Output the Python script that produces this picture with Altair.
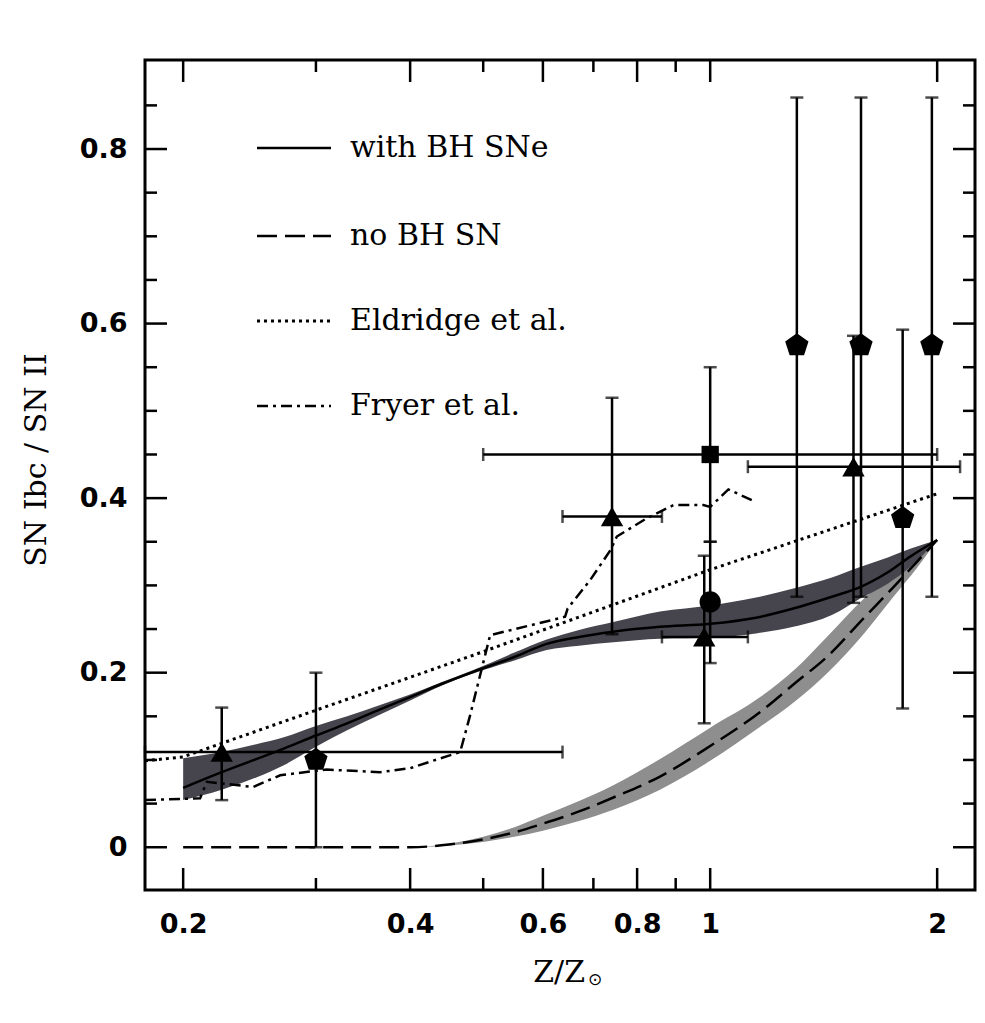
import altair as alt
import pandas as pd

# ---------------- values ----------------
# model "with BH SNe": metallicity grid, central curve, shaded range
bh_z   = [0.2, 0.225, 0.25, 0.272, 0.30, 0.33, 0.365, 0.40, 0.44, 0.485, 0.55, 0.607,
          0.67, 0.744, 0.858, 1.0, 1.15, 1.289, 1.45, 1.581, 1.72, 1.842, 2.0]
bh_mid = [0.068, 0.086, 0.101, 0.113, 0.128, 0.142, 0.158, 0.172, 0.187, 0.201, 0.218, 0.233,
          0.241, 0.247, 0.2525, 0.256, 0.263, 0.2735, 0.287, 0.298, 0.315, 0.333, 0.352]
bh_lo  = [0.054, 0.066, 0.080, 0.094, 0.115, 0.134, 0.152, 0.168, 0.185, 0.199, 0.214, 0.226,
          0.231, 0.235, 0.239, 0.240, 0.245, 0.2525, 0.266, 0.285, 0.302, 0.321, 0.352]
bh_hi  = [0.102, 0.109, 0.118, 0.126, 0.139, 0.150, 0.163, 0.175, 0.189, 0.203, 0.223, 0.238,
          0.249, 0.258, 0.270, 0.277, 0.286, 0.2965, 0.309, 0.321, 0.332, 0.342, 0.352]

# model "no BH SN"
nb_z   = [0.2, 0.3, 0.4, 0.45, 0.5, 0.55, 0.6, 0.67, 0.744, 0.858, 1.0, 1.165, 1.3,
          1.428, 1.6, 1.75, 1.88, 2.0]
nb_mid = [0.0, 0.0, 0.0, 0.003, 0.009, 0.017, 0.027, 0.041, 0.057, 0.081, 0.116, 0.155,
          0.189, 0.218, 0.263, 0.298, 0.327, 0.352]
nb_lo  = [0.0, 0.0, 0.0, 0.002, 0.006, 0.012, 0.019, 0.030, 0.043, 0.066, 0.099, 0.138,
          0.168, 0.199, 0.245, 0.287, 0.320, 0.352]
nb_hi  = [0.0, 0.0, 0.0, 0.004, 0.012, 0.023, 0.036, 0.053, 0.071, 0.101, 0.137, 0.172,
          0.205, 0.241, 0.285, 0.314, 0.335, 0.352]

# Eldridge et al.
eld_z = [0.178, 0.2, 0.3, 0.485, 1.0, 2.0]
eld_v = [0.099, 0.1035, 0.157, 0.220, 0.318, 0.405]

# Fryer et al.
fry_z = [0.178, 0.2106, 0.215, 0.2476, 0.269, 0.31, 0.365, 0.40, 0.425, 0.466, 0.480,
         0.5107, 0.642, 0.647, 0.693, 0.737, 0.752, 0.824, 0.894, 0.979, 1.0, 1.057, 1.147]
fry_v = [0.054, 0.056, 0.075, 0.069, 0.0825, 0.089, 0.086, 0.0905, 0.098, 0.109, 0.150,
         0.243, 0.264, 0.2735, 0.306, 0.340, 0.356, 0.377, 0.392, 0.392, 0.390, 0.410, 0.396]

# observations: triangles
tri_z   = [0.225, 0.741, 0.982, 1.549]
tri_v   = [0.109, 0.379, 0.241, 0.436]
tri_lo  = [0.054, 0.244, 0.142, 0.280]
tri_hi  = [0.160, 0.515, 0.334, 0.586]
tri_zlo = [0.178, 0.637, 0.863, 1.122]
tri_zhi = [0.637, 0.863, 1.122, 2.145]

# pentagons
pen_z  = [0.300, 1.303, 1.585, 1.968, 1.80]
pen_v  = [0.100, 0.575, 0.575, 0.575, 0.377]
pen_lo = [0.0, 0.287, 0.287, 0.287, 0.159]
pen_hi = [0.200, 0.859, 0.859, 0.859, 0.593]

# square
sq_z, sq_v, sq_lo, sq_hi, sq_zlo, sq_zhi = [1.0], [0.450], [0.350], [0.550], [0.500], [2.0]

# circle
ci_z, ci_v, ci_lo, ci_hi = [1.0], [0.281], [0.211], [0.350]

# axis ticks / labels
x_major = [0.2, 0.4, 0.6, 0.8, 1.0, 2.0]
x_minor = [0.3, 0.5, 0.7, 0.9]
y_major = [0.0, 0.2, 0.4, 0.6, 0.8]
y_minor = [0.05, 0.1, 0.15, 0.25, 0.3, 0.35, 0.45, 0.5, 0.55, 0.65, 0.7, 0.75, 0.85]

legend_labels = ["with BH SNe", "no BH SN", "Eldridge et al.", "Fryer et al."]

# ---------------- layout / style ----------------
W, H = 830, 830
LW = 2.5
xscale = alt.Scale(type="log", domain=[0.178, 2.245], nice=False)
yscale = alt.Scale(domain=[-0.049, 0.902], nice=False, zero=False)

xaxis = alt.Axis(values=x_major, format=".1~f", ticks=False, domain=False, grid=False,
                 labelFont="DejaVu Sans", labelFontWeight="bold", labelFontSize=27,
                 labelColor="black", labelPadding=21, labelFlush=False, labelOverlap=False,
                 title=None)
yaxis = alt.Axis(values=y_major, format=".1~f", ticks=False, domain=False, grid=False,
                 labelFont="DejaVu Sans", labelFontWeight="bold", labelFontSize=27,
                 labelColor="black", labelPadding=18, labelFlush=False, labelOverlap=False,
                 title=None)


def X(field="z"):
    return alt.X(f"{field}:Q", scale=xscale, axis=xaxis)


def Y(field="v"):
    return alt.Y(f"{field}:Q", scale=yscale, axis=yaxis)


bh = pd.DataFrame({"z": bh_z, "v": bh_mid, "lo": bh_lo, "hi": bh_hi})
nb = pd.DataFrame({"z": nb_z, "v": nb_mid, "lo": nb_lo, "hi": nb_hi})
eld = pd.DataFrame({"z": eld_z, "v": eld_v})
fry = pd.DataFrame({"z": fry_z, "v": fry_v})

layers = []

# bands
layers.append(alt.Chart(nb).mark_area(color="#8e8e8e", interpolate="monotone")
              .encode(x=X(), y=Y("lo"), y2="hi:Q"))
layers.append(alt.Chart(bh).mark_area(color="#46454e", interpolate="monotone")
              .encode(x=X(), y=Y("lo"), y2="hi:Q"))
# curves
layers.append(alt.Chart(nb).mark_line(color="black", strokeWidth=LW, strokeDash=[20, 8],
                                      interpolate="monotone").encode(x=X(), y=Y()))
layers.append(alt.Chart(bh).mark_line(color="black", strokeWidth=LW, interpolate="monotone")
              .encode(x=X(), y=Y()))
layers.append(alt.Chart(eld).mark_line(color="black", strokeWidth=3, strokeDash=[3, 4])
              .encode(x=X(), y=Y()))
layers.append(alt.Chart(fry).mark_line(color="black", strokeWidth=LW, strokeDash=[11, 5, 3, 5])
              .encode(x=X(), y=Y()))

# error bars
vz = tri_z + pen_z + sq_z + ci_z
vlo = tri_lo + pen_lo + sq_lo + ci_lo
vhi = tri_hi + pen_hi + sq_hi + ci_hi
vbars = pd.DataFrame({"z": vz, "lo": vlo, "hi": vhi})
vcaps = pd.DataFrame({"z": vz + vz, "v": vlo + vhi})
hv = tri_v + sq_v
hzlo = tri_zlo + sq_zlo
hzhi = tri_zhi + sq_zhi
hbars = pd.DataFrame({"v": hv, "zlo": hzlo, "zhi": hzhi})
hcaps = pd.DataFrame({"z": hzlo + hzhi, "v": hv + hv})

layers.append(alt.Chart(vbars).mark_rule(color="black", strokeWidth=LW)
              .encode(x=X(), y=Y("lo"), y2="hi:Q"))
layers.append(alt.Chart(vcaps).mark_tick(color="black", orient="horizontal", size=13,
                                          thickness=LW).encode(x=X(), y=Y()))
layers.append(alt.Chart(hbars).mark_rule(color="black", strokeWidth=LW)
              .encode(x=X("zlo"), x2="zhi:Q", y=Y()))
layers.append(alt.Chart(hcaps).mark_tick(color="black", orient="vertical", size=13,
                                          thickness=LW).encode(x=X(), y=Y()))

# markers
PENT = "M0,-1L0.951,-0.309L0.588,0.809L-0.588,0.809L-0.951,-0.309Z"
layers.append(alt.Chart(pd.DataFrame({"z": tri_z, "v": tri_v}))
              .mark_point(shape="triangle-up", filled=True, size=500, color="black", opacity=1)
              .encode(x=X(), y=Y()))
layers.append(alt.Chart(pd.DataFrame({"z": pen_z, "v": pen_v}))
              .mark_point(shape=PENT, filled=True, size=600, color="black", opacity=1)
              .encode(x=X(), y=Y()))
layers.append(alt.Chart(pd.DataFrame({"z": sq_z, "v": sq_v}))
              .mark_point(shape="square", filled=True, size=300, color="black", opacity=1)
              .encode(x=X(), y=Y()))
layers.append(alt.Chart(pd.DataFrame({"z": ci_z, "v": ci_v}))
              .mark_point(shape="circle", filled=True, size=452, color="black", opacity=1)
              .encode(x=X(), y=Y()))

# inward ticks on all four sides
MAJ, MIN = 22, 12
xmaj = pd.DataFrame({"z": x_major})
xmin = pd.DataFrame({"z": x_minor})
ymaj = pd.DataFrame({"v": y_major})
ymin = pd.DataFrame({"v": y_minor})
for df, L in ((xmaj, MAJ), (xmin, MIN)):
    layers.append(alt.Chart(df).mark_rule(color="black", strokeWidth=LW)
                  .encode(x=X(), y=alt.value(H), y2=alt.value(H - L)))
    layers.append(alt.Chart(df).mark_rule(color="black", strokeWidth=LW)
                  .encode(x=X(), y=alt.value(0), y2=alt.value(L)))
for df, L in ((ymaj, MAJ), (ymin, MIN)):
    layers.append(alt.Chart(df).mark_rule(color="black", strokeWidth=LW)
                  .encode(y=Y(), x=alt.value(0), x2=alt.value(L)))
    layers.append(alt.Chart(df).mark_rule(color="black", strokeWidth=LW)
                  .encode(y=Y(), x=alt.value(W), x2=alt.value(W - L)))

# legend (drawn inside the plot)
rows = [88, 176, 261, 346]
dashes = [None, [20, 8], [3, 4], [11, 5, 3, 5]]
widths = [LW, LW, 3, LW]
for lab, ry, dsh, sw in zip(legend_labels, rows, dashes, widths):
    kw = dict(color="black", strokeWidth=sw)
    if dsh is not None:
        kw["strokeDash"] = dsh
    layers.append(alt.Chart(pd.DataFrame({"t": [lab]})).mark_rule(**kw)
                  .encode(x=alt.value(112), x2=alt.value(186), y=alt.value(ry)))
    layers.append(alt.Chart(pd.DataFrame({"t": [lab]}))
                  .mark_text(font="DejaVu Serif", fontSize=30, align="left", baseline="middle",
                             color="black")
                  .encode(x=alt.value(205), y=alt.value(ry), text="t:N"))

# axis titles
layers.append(alt.Chart(pd.DataFrame({"t": ["SN Ibc / SN II"]}))
              .mark_text(font="DejaVu Serif", fontSize=30, angle=270, align="center",
                         baseline="middle", color="black")
              .encode(x=alt.value(-108), y=alt.value(H / 2 - 15), text="t:N"))
layers.append(alt.Chart(pd.DataFrame({"t": ["Z/Z"]}))
              .mark_text(font="DejaVu Serif", fontSize=30, align="right",
                         baseline="alphabetic", color="black")
              .encode(x=alt.value(440), y=alt.value(922), text="t:N"))
layers.append(alt.Chart(pd.DataFrame({"t": ["\u2299"]}))
              .mark_text(font="DejaVu Sans", fontSize=17, align="center",
                         baseline="middle", color="black")
              .encode(x=alt.value(450), y=alt.value(920), text="t:N"))

chart = (alt.layer(*layers)
         .properties(width=W, height=H,
                     autosize=alt.AutoSizeParams(type="none"),
                     padding={"left": 137, "top": 52, "right": 2, "bottom": 120},
                     background="white")
         .configure_view(stroke="black", strokeWidth=3))

chart.save("out.html", embed_options={"renderer": "svg", "actions": False})
